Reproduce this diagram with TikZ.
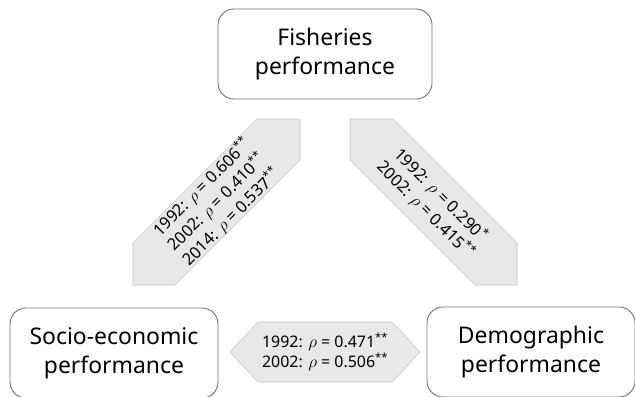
\documentclass[tikz,border=0pt]{standalone}
\usepackage{fontspec}
\setmainfont{Noto Sans}
\usepackage{tikz}
\usetikzlibrary{positioning}

\tikzset{
  perfbox/.style={draw=black!55, line width=0.9bp, rounded corners=16bp,
    align=center, inner sep=0pt, minimum width=208bp, minimum height=90bp,
    font=\fontsize{23}{29}\selectfont},
  corrband/.style={fill=black!9, draw=black!22, line width=0.6bp},
  corrtext/.style={align=center, inner sep=0pt,
    font=\fontsize{16}{20}\selectfont},
}

\begin{document}
\begin{tikzpicture}[x=1bp, y=-1bp]
  \useasboundingbox (0,0) rectangle (635,396);
  % Performance boxes
  \node[perfbox, minimum width=214bp] (fish) at (325,54) {Fisheries\\performance};
  \node[perfbox] (socio) at (114,353) {Socio-economic\\performance};
  \node[perfbox] (demo) at (531,352) {Demographic\\performance};
  % Correlation bands
  \draw[corrband] (133,285) -- (175,285) -- (300,160) -- (300,119)
    -- (257,119) -- (133,243) -- cycle;
  \draw[corrband] (350,119) -- (393,119) -- (517,243) -- (517,285)
    -- (475,285) -- (350,160) -- cycle;
  \draw[corrband] (230,352) -- (258,322) -- (392,322) -- (420,352)
    -- (392,382) -- (258,382) -- cycle;
  % Correlations
  \node[corrtext, rotate=45, font=\fontsize{16.5}{21}\selectfont] (fishsocio) at (216.5,202)
    {1992: $\rho$ = 0.606\textsuperscript{**}\\
     2002: $\rho$ = 0.410\textsuperscript{**}\\
     2014: $\rho$ = 0.537\textsuperscript{**}};
  \node[corrtext, rotate=-45, font=\fontsize{16.5}{21}\selectfont] (fishdemo) at (433.5,202)
    {1992: $\rho$ = 0.290\textsuperscript{*}\\
     2002: $\rho$ = 0.415\textsuperscript{**}};
  \node[corrtext] (sociodemo) at (325,352)
    {1992: $\rho$ = 0.471\textsuperscript{**}\\
     2002: $\rho$ = 0.506\textsuperscript{**}};
\end{tikzpicture}
\end{document}
